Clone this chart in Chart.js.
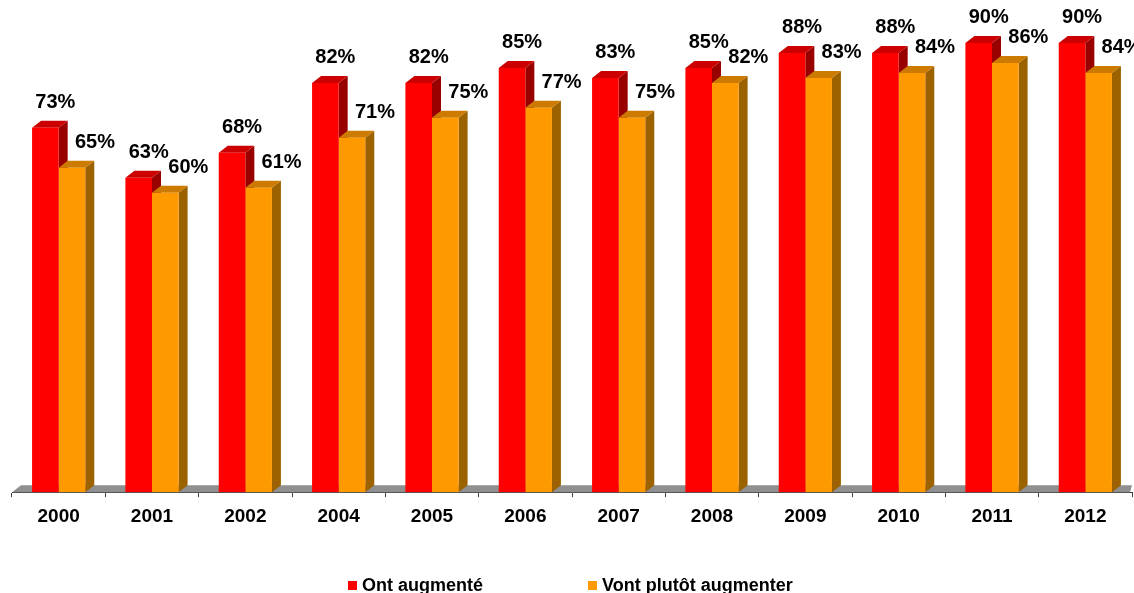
<!DOCTYPE html>
<html>
<head>
<meta charset="utf-8">
<script src="https://cdn.jsdelivr.net/npm/chart.js@4.4.1/dist/chart.umd.min.js"></script>
<style>
  html, body { margin: 0; padding: 0; background: #fff; }
  #wrap { position: relative; width: 1134px; height: 593px; overflow: hidden; }
  .leg { position: absolute; top: 576px; font: bold 18px "Liberation Sans", Arial, sans-serif; line-height: 18px; color: #000; white-space: nowrap; }
  .leg i { display: inline-block; width: 9px; height: 9px; margin-right: 5px; vertical-align: 1px; }
</style>
</head>
<body>
<div id="wrap">
  <canvas id="chart" width="1134" height="593"></canvas>
  <div class="leg" style="left:348px"><i style="background:#ff0000"></i>Ont augmenté</div>
  <div class="leg" style="left:588px"><i style="background:#ff9900"></i>Vont plutôt augmenter</div>
</div>
<script>
const years = ['2000', '2001', '2002', '2004', '2005', '2006', '2007', '2008', '2009', '2010', '2011', '2012'];
const ontAugmente = [73, 63, 68, 82, 82, 85, 83, 85, 88, 88, 90, 90];
const vontAugmenter = [65, 60, 61, 71, 75, 77, 75, 82, 83, 84, 86, 84];
const seriesNames = ['Ont augmenté', 'Vont plutôt augmenter'];

// front, top and side shades for the fake 3d bars
const shades = [
    { front: '#ff0000', top: '#cc0000', side: '#990000', labelDx: 10 },
    { front: '#ff9900', top: '#cc7a00', side: '#9c6200', labelDx: 23 }
];
const DX = 9, DY = 7;

const depth3d = {
    id: 'depth3d',
    beforeDatasetsDraw(chart) {
        const ctx = chart.ctx;
        const area = chart.chartArea;
        const base = area.bottom;

        // grey floor
        ctx.save();
        ctx.fillStyle = '#8f8f8f';
        ctx.beginPath();
        ctx.moveTo(area.left, base);
        ctx.lineTo(area.left + DX, base - DY);
        ctx.lineTo(area.right, base - DY);
        ctx.lineTo(area.right - 2, base);
        ctx.closePath();
        ctx.fill();

        chart.data.datasets.forEach((ds, i) => {
            const s = shades[i];
            chart.getDatasetMeta(i).data.forEach(bar => {
                const l = bar.x - bar.width / 2, r = bar.x + bar.width / 2, t = bar.y;
                ctx.fillStyle = s.side;
                ctx.beginPath();
                ctx.moveTo(r, t);
                ctx.lineTo(r + DX, t - DY);
                ctx.lineTo(r + DX, base - DY);
                ctx.lineTo(r, base);
                ctx.closePath();
                ctx.fill();
                ctx.fillStyle = s.top;
                ctx.beginPath();
                ctx.moveTo(l, t);
                ctx.lineTo(l + DX, t - DY);
                ctx.lineTo(r + DX, t - DY);
                ctx.lineTo(r, t);
                ctx.closePath();
                ctx.fill();
            });
        });
        ctx.restore();
    },
    afterDatasetsDraw(chart) {
        const ctx = chart.ctx;
        ctx.save();
        ctx.font = 'bold 20px "Liberation Sans", Arial, sans-serif';
        ctx.fillStyle = '#000';
        ctx.textAlign = 'center';
        ctx.textBaseline = 'middle';
        chart.data.datasets.forEach((ds, i) => {
            chart.getDatasetMeta(i).data.forEach((bar, j) => {
                ctx.fillText(ds.data[j] + '%', bar.x + shades[i].labelDx, bar.y - 25);
            });
        });
        ctx.restore();
    }
};

const ctx = document.getElementById('chart').getContext('2d');
new Chart(ctx, {
    type: 'bar',
    data: {
        labels: years,
        datasets: [
            { label: seriesNames[0], data: ontAugmente, backgroundColor: shades[0].front },
            { label: seriesNames[1], data: vontAugmenter, backgroundColor: shades[1].front }
        ]
    },
    options: {
        responsive: false,
        animation: false,
        events: [],
        layout: { padding: { left: 12, right: 2, top: 13, bottom: 57 } },
        datasets: { bar: { categoryPercentage: 0.57, barPercentage: 1, borderWidth: 0 } },
        plugins: {
            legend: { display: false },
            tooltip: { enabled: false }
        },
        scales: {
            x: {
                grid: { offset: true, drawOnChartArea: false, tickLength: 5, color: '#404040' },
                border: { color: '#404040', width: 1 },
                ticks: {
                    padding: 8,
                    color: '#000',
                    font: { family: '"Liberation Sans", Arial, sans-serif', size: 19, weight: 'bold' }
                }
            },
            y: { display: false, min: 0, max: 96 }
        }
    },
    plugins: [depth3d]
});
</script>
</body>
</html>
